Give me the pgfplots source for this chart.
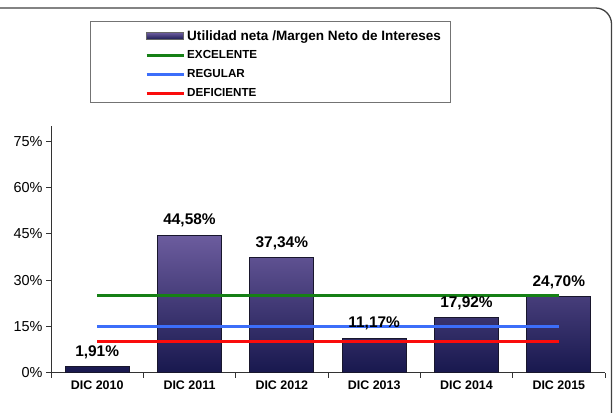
\documentclass[border=0pt]{standalone}
\usepackage{pgfplots}
\pgfplotsset{compat=1.18}
\usepackage{fontspec}
\setmainfont{Liberation Sans}
\definecolor{bartop}{RGB}{108,92,158}
\definecolor{barbot}{RGB}{24,24,78}
\definecolor{baredge}{RGB}{24,22,44}
\definecolor{cgreen}{RGB}{22,128,22}
\definecolor{cblue}{RGB}{60,110,250}
\definecolor{cred}{RGB}{250,12,12}
\begin{document}
\begin{tikzpicture}
\useasboundingbox (-51bp,-40.5bp) rectangle (562bp,372.5bp);
\draw[line width=1.3bp, black!75, rounded corners=16bp] (-70bp,-70bp) rectangle (560.5bp,364.5bp);
\draw[line width=1bp, black!55] (39bp,269.5bp) rectangle (399bp,350.5bp);
\begin{axis}[
  at={(0,0)}, anchor=south west,
  scale only axis, width=554bp, height=246.5bp,
  xmin=-0.5, xmax=5.5, ymin=0, ymax=80,
  axis x line=bottom, axis y line=left,
  axis line style={-, black!80, line width=0.8bp},
  clip=false,
  xtick={0,1,2,3,4,5},
  xticklabels={DIC 2010,DIC 2011,DIC 2012,DIC 2013,DIC 2014,DIC 2015},
  major x tick style={draw=none},
  minor xtick={-0.5,0.5,1.5,2.5,3.5,4.5,5.5},
  minor x tick style={black!80, line width=0.8bp},
  ytick={0,15,30,45,60,75},
  y tick style={black!80, line width=0.8bp},
  tick align=outside,
  major tick length=5bp, minor tick length=5bp,
  /pgf/number format/assume math mode=true,
  yticklabel={\pgfmathprintnumber{\tick}\%},
  yticklabel style={font=\fontsize{14.5}{16}\selectfont},
  xticklabel style={font=\fontsize{12.5}{14}\selectfont\bfseries},
  legend cell align=left,
  legend style={at={(0.1697,1.404)}, anchor=north west, draw=none, fill=none,
    inner sep=0pt, row sep=0pt,
    nodes={minimum height=19bp, inner sep=2bp, font=\fontsize{11.7}{13}\selectfont\bfseries}},
]
\addplot[ybar, bar width=64bp, draw=baredge, line width=1bp, top color=bartop, bottom color=barbot,
  nodes near coords={\pgfmathprintnumber[fixed,fixed zerofill,precision=2,use comma]{\pgfplotspointmeta}\%},
  every node near coord/.append style={font=\fontsize{15.5}{17}\selectfont\bfseries, black, yshift=4bp},
  legend image code/.code={\draw[draw=black!60, fill=barbot!80!black, line width=0.8bp] (0bp,-3.5bp) rectangle (37bp,3.5bp);}
] coordinates {(0,1.91) (1,44.58) (2,37.34) (3,11.17) (4,17.92) (5,24.70)};
\addlegendentry{\fontsize{13.6}{14}\selectfont Utilidad neta /Margen Neto de Intereses}
\addplot[cgreen, line width=3bp, legend image code/.code={\draw[cgreen, line width=3bp] (0bp,0bp) -- (37bp,0bp);}]
  coordinates {(0,25) (1,25) (2,25) (3,25) (4,25) (5,25)};
\addlegendentry{EXCELENTE}
\addplot[cblue, line width=3bp, legend image code/.code={\draw[cblue, line width=3bp] (0bp,0bp) -- (37bp,0bp);}]
  coordinates {(0,15) (1,15) (2,15) (3,15) (4,15) (5,15)};
\addlegendentry{REGULAR}
\addplot[cred, line width=3bp, legend image code/.code={\draw[cred, line width=3bp] (0bp,0bp) -- (37bp,0bp);}]
  coordinates {(0,10) (1,10) (2,10) (3,10) (4,10) (5,10)};
\addlegendentry{DEFICIENTE}
\end{axis}
\end{tikzpicture}
\end{document}
